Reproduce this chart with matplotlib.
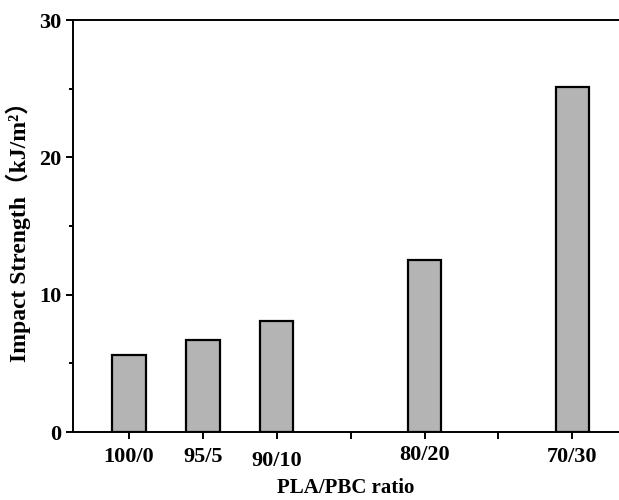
import matplotlib
matplotlib.use("Agg")
import matplotlib.pyplot as plt
from matplotlib.transforms import ScaledTranslation

pbc_content = [0, 5, 10, 20, 30]
ratio_labels = ["100/0", "95/5", "90/10", "80/20", "70/30"]
impact_strength = [5.6, 6.7, 8.1, 12.55, 25.1]

plt.rcParams['font.family'] = ['Liberation Serif', 'Noto Sans CJK SC']
plt.rcParams['font.weight'] = 'bold'

fig = plt.figure(figsize=(6.19, 5.0), dpi=100)
ax = fig.add_axes([0.1175, 0.136, 0.8825, 0.824])

ax.bar(pbc_content, impact_strength, width=2.27, color='#b4b4b4',
       edgecolor='black', linewidth=1.6, zorder=3)

ax.set_xlim(-3.79, 33.15)
ax.set_ylim(0, 30)

ticks = [0, 5, 10, 15, 20, 25, 30]
ax.set_xticks(ticks)
lbl_map = dict(zip(pbc_content, ratio_labels))
ax.set_xticklabels([lbl_map.get(v, "") for v in ticks])
ax.set_yticks([0, 10, 20, 30])
ax.set_yticks([5, 15, 25], minor=True)

for s in ['left', 'bottom', 'top']:
    ax.spines[s].set_linewidth(1.4)
ax.spines['right'].set_visible(False)

ax.tick_params(axis='both', which='major', direction='out', length=5, width=1.4,
               labelsize=16, pad=3)
ax.tick_params(axis='y', which='minor', direction='out', length=3, width=1.4)
ax.tick_params(axis='x', pad=6)

offsets = {"90/10": -3, "80/20": 2}
for lab in ax.get_xticklabels():
    t = lab.get_text()
    if t in offsets:
        lab.set_transform(lab.get_transform() +
                          ScaledTranslation(0, offsets[t] / 72, fig.dpi_scale_trans))
for lab in ax.get_xticklabels() + ax.get_yticklabels():
    lab.set_fontweight('bold')

ax.set_xlabel("PLA/PBC ratio", fontsize=15, fontweight='bold', labelpad=5)
ax.set_ylabel("Impact Strength（kJ/m²）", fontsize=17, fontweight='bold', labelpad=6)

fig.savefig("out.png", dpi=100)
